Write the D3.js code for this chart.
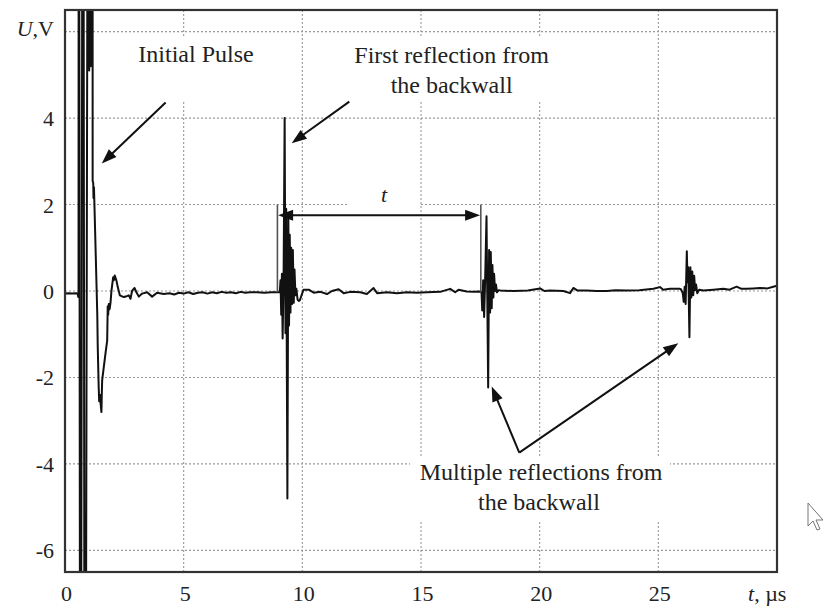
<!DOCTYPE html>
<html>
<head>
<meta charset="utf-8">
<script src="https://cdn.jsdelivr.net/npm/d3@7"></script>
<style>
  body { margin: 0; background: #fff; }
  text { font-family: "Liberation Serif", "Times New Roman", serif; fill: #222; }
</style>
</head>
<body>
<div id="chart"></div>
<script>
// ticks
const xTicks = [0, 5, 10, 15, 20, 25];
const yTicks = [-6, -4, -2, 0, 2, 4, 6];
const yTickLabels = ["-6", "-4", "-2", "0", "2", "4", ""];

// signal: [t (µs), U (V)]
const initialPulse = [
  [0, -0.06], [0.15, -0.05], [0.3, -0.06], [0.45, -0.05], [0.53, -0.06], [0.56, -0.14], [0.57, -0.1],
  [0.58, 20], [0.65, -20], [0.76, 20], [0.84, -20], [0.99, 20], [1.02, 5.1], [1.05, 20], [1.08, 5.2],
  [1.11, 20], [1.14, 5.3], [1.16, 20], [1.165, 2.55], [1.19, 2.5], [1.2, 2.15], [1.22, 2.4], [1.24, 2.0],
  [1.36, -0.53], [1.38, -1.3], [1.42, -2.23], [1.44, -2.55], [1.47, -2.4], [1.5, -2.6], [1.535, -2.8],
  [1.55, -2.4], [1.566, -2.07], [1.634, -1.76], [1.705, -1.45], [1.777, -1.15], [1.8, -0.35], [1.82, -0.55],
  [1.844, -0.3], [1.88, -0.42], [1.916, -0.28], [1.958, 0.01], [2.03, 0.32], [2.06, 0.25], [2.097, 0.36],
  [2.168, 0.24], [2.223, 0.09]
];
const noiseA = [
  [2.31, -0.1], [2.48, -0.14], [2.6, -0.12], [2.69, -0.1], [2.76, -0.18], [2.83, 0.01], [2.93, 0.07],
  [3.01, -0.03], [3.11, -0.13], [3.25, -0.06], [3.46, -0.03], [3.67, -0.13], [3.88, -0.04], [4.16, -0.07],
  [4.4, -0.05], [4.6, -0.08], [4.8, -0.04], [5.0, -0.06], [5.2, -0.03], [5.4, -0.07], [5.6, -0.04],
  [5.8, -0.03], [6.0, -0.06], [6.2, -0.03], [6.4, -0.05], [6.6, -0.02], [6.8, -0.04], [7.0, -0.03],
  [7.2, -0.05], [7.4, -0.02], [7.6, -0.04], [7.8, -0.03], [8.1, -0.03], [8.4, -0.04], [8.7, -0.03], [9.02, -0.03]
];
const firstEcho = [
  [9.05, -0.03], [9.08, 0.25], [9.11, -0.55], [9.14, 0.4], [9.17, -1.1], [9.21, 0.3], [9.255, 4.0],
  [9.29, -0.98], [9.32, 1.9], [9.37, -4.8], [9.41, 1.7], [9.44, -0.8], [9.47, 1.3], [9.5, -0.5],
  [9.53, 1.0], [9.57, -0.3], [9.6, 0.95], [9.64, -0.27], [9.67, 0.5], [9.71, -0.1], [9.75, 0.05],
  [9.8, -0.2], [9.86, -0.23]
];
const noiseB = [
  [9.89, -0.22], [10.05, 0.03], [10.27, 0.03], [10.48, -0.04], [10.76, -0.02], [11.04, -0.07], [11.25, 0.0],
  [11.53, 0.04], [11.74, -0.05], [12.02, -0.02], [12.44, -0.03], [12.72, -0.07], [13.0, 0.07], [13.15, -0.05],
  [13.57, -0.03], [13.99, -0.05], [14.41, -0.03], [14.83, -0.04], [15.25, -0.03], [15.81, -0.02], [16.23, 0.05],
  [16.44, -0.03], [16.58, 0.03], [16.93, -0.01], [17.21, -0.02], [17.49, -0.01]
];
const secondEcho = [
  [17.55, -0.02], [17.58, -0.45], [17.62, 0.25], [17.66, -0.6], [17.7, 0.2], [17.76, 1.73], [17.83, -2.23],
  [17.87, 0.95], [17.91, -0.5], [17.94, 0.9], [17.98, -0.4], [18.01, 0.6], [18.05, -0.15], [18.08, 0.4],
  [18.12, 0.0], [18.16, 0.15], [18.2, -0.03], [18.27, 0.02]
];
const noiseC = [
  [18.34, 0.01], [18.9, 0.0], [19.5, 0.01], [20.02, 0.06], [20.2, 0.0], [20.44, 0.01], [21.0, 0.0],
  [21.28, -0.05], [21.42, 0.07], [21.6, 0.01], [21.98, 0.01], [22.4, 0.0], [22.83, 0.0], [23.2, 0.02],
  [23.67, 0.01], [24.2, 0.02], [24.79, 0.05], [25.07, 0.09], [25.2, 0.03], [25.49, 0.05], [25.91, 0.05]
];
const thirdEcho = [
  [25.95, 0.04], [26.03, -0.05], [26.07, -0.25], [26.11, 0.1], [26.15, -0.3], [26.2, 0.92], [26.23, 0.2],
  [26.26, 0.55], [26.31, -1.07], [26.35, 0.55], [26.39, -0.15], [26.43, 0.45], [26.47, -0.1], [26.51, 0.35],
  [26.55, 0.02], [26.59, 0.15], [26.64, -0.05], [26.72, 0.03]
];
const noiseD = [
  [26.9, 0.01], [27.32, 0.03], [27.74, 0.05], [28.0, 0.03], [28.3, 0.1], [28.5, 0.05], [28.72, 0.05],
  [29.0, 0.06], [29.28, 0.07], [29.6, 0.06], [29.84, 0.1], [30, 0.12]
];

// time-of-flight marker
const cursorTimes = [8.95, 17.52];
const cursorLevel = 2.0;
const flightArrow = { t0: 8.98, t1: 17.49, u: 1.75 };

//size
const width = 825;
const height = 610;
const margin = { top: 10, right: 48, bottom: 38, left: 65 };

const signal = [].concat(initialPulse, noiseA, firstEcho, noiseB, secondEcho, noiseC, thirdEcho, noiseD);

const x = d3.scaleLinear().domain([0, 30]).range([margin.left, width - margin.right]);
const y = d3.scaleLinear().domain([-6.5, 6.5]).range([height - margin.bottom, margin.top]);

const svg = d3.select("#chart").append("svg")
  .attr("width", width)
  .attr("height", height);

svg.append("defs").append("clipPath").attr("id", "plot")
  .append("rect")
  .attr("x", x(0)).attr("y", y(6.5))
  .attr("width", x(30) - x(0)).attr("height", y(-6.5) - y(6.5));

// grid
const grid = svg.append("g").attr("stroke", "#999").attr("stroke-width", 1.1).attr("stroke-dasharray", "2,2");
grid.selectAll("line.v").data(xTicks.filter(d => d > 0)).join("line")
  .attr("x1", d => x(d)).attr("x2", d => x(d))
  .attr("y1", y(6.5)).attr("y2", y(-6.5));
grid.selectAll("line.h").data(yTicks).join("line")
  .attr("x1", x(0)).attr("x2", x(30))
  .attr("y1", d => y(d)).attr("y2", d => y(d));

// white boxes behind the notes (they cut the grid)
const boxes = [
  [2.74, 8.3, 5.9, 4.4],
  [11.8, 20.77, 5.9, 4.4],
  [11.97, 14.92, 2.57, 1.9],
  [14.54, 25.49, -3.84, -5.3]
];
svg.append("g").selectAll("rect").data(boxes).join("rect")
  .attr("fill", "#fff")
  .attr("x", d => x(d[0])).attr("width", d => x(d[1]) - x(d[0]))
  .attr("y", d => y(d[2])).attr("height", d => y(d[3]) - y(d[2]));

// signal
svg.append("path")
  .datum(signal)
  .attr("clip-path", "url(#plot)")
  .attr("fill", "none")
  .attr("stroke", "#111")
  .attr("stroke-width", 2)
  .attr("stroke-linejoin", "round")
  .attr("d", d3.line().x(d => x(d[0])).y(d => y(d[1])));

// cursors
svg.append("g").selectAll("line").data(cursorTimes).join("line")
  .attr("stroke", "#555").attr("stroke-width", 1.6)
  .attr("x1", d => x(d)).attr("x2", d => x(d))
  .attr("y1", y(cursorLevel)).attr("y2", y(-0.03));

function arrow(g, t0, u0, t1, u1, both) {
  const x1 = x(t0), y1 = y(u0), x2 = x(t1), y2 = y(u1);
  const a = Math.atan2(y2 - y1, x2 - x1);
  const L = 15, W = 5.5;
  const head = (px, py, ang) => {
    const bx = px - L * Math.cos(ang), by = py - L * Math.sin(ang);
    g.append("polygon")
      .attr("fill", "#111")
      .attr("points", [[px, py], [bx + W * Math.sin(ang), by - W * Math.cos(ang)], [bx - W * Math.sin(ang), by + W * Math.cos(ang)]].join(" "));
  };
  g.append("line")
    .attr("stroke", "#111").attr("stroke-width", 2)
    .attr("x1", both ? x1 + (L - 2) * Math.cos(a) : x1)
    .attr("y1", both ? y1 + (L - 2) * Math.sin(a) : y1)
    .attr("x2", x2 - (L - 2) * Math.cos(a)).attr("y2", y2 - (L - 2) * Math.sin(a));
  head(x2, y2, a);
  if (both) head(x1, y1, a + Math.PI);
}

const notes = svg.append("g");
arrow(notes, flightArrow.t0, flightArrow.u, flightArrow.t1, flightArrow.u, true);
arrow(notes, 4.24, 4.36, 1.55, 2.95);
arrow(notes, 11.98, 4.38, 9.55, 3.42);
arrow(notes, 19.14, -3.74, 17.98, -2.21);
arrow(notes, 19.14, -3.74, 25.84, -1.21);

const labels = [
  { t: 5.52, u: 5.3, text: "Initial Pulse" },
  { t: 16.29, u: 5.27, text: "First reflection from" },
  { t: 16.29, u: 4.58, text: "the backwall" },
  { t: 20.06, u: -4.37, text: "Multiple reflections from" },
  { t: 19.97, u: -5.07, text: "the backwall" }
];
notes.selectAll("text.note").data(labels).join("text")
  .attr("class", "note")
  .attr("x", d => x(d.t)).attr("y", d => y(d.u))
  .attr("text-anchor", "middle")
  .attr("font-size", 24)
  .text(d => d.text);

notes.append("text")
  .attr("x", x(13.44)).attr("y", y(2.06))
  .attr("text-anchor", "middle")
  .attr("font-size", 22).attr("font-style", "italic")
  .text("t");

// frame
svg.append("rect")
  .attr("x", x(0)).attr("y", y(6.5))
  .attr("width", x(30) - x(0)).attr("height", y(-6.5) - y(6.5))
  .attr("fill", "none").attr("stroke", "#333").attr("stroke-width", 2.2);

// tick labels
svg.append("g").selectAll("text").data(xTicks).join("text")
  .attr("x", d => x(d) + 1.5).attr("y", y(-6.5) + 29)
  .attr("text-anchor", "middle").attr("font-size", 22)
  .text(d => d);
svg.append("g").selectAll("text").data(yTicks).join("text")
  .attr("x", x(0) - 11).attr("y", d => y(d) + 8)
  .attr("text-anchor", "end").attr("font-size", 22)
  .text((d, i) => yTickLabels[i]);

// axis names
const uLab = svg.append("text").attr("x", x(0) - 11).attr("y", y(6) + 4)
  .attr("text-anchor", "end").attr("font-size", 22);
uLab.append("tspan").attr("font-style", "italic").text("U");
uLab.append("tspan").text(",V");

const tLab = svg.append("text").attr("x", 748).attr("y", y(-6.5) + 29).attr("font-size", 22);
tLab.append("tspan").attr("font-style", "italic").text("t");
tLab.append("tspan").text(", µs");

// mouse pointer left in the screenshot
svg.append("path")
  .attr("transform", "translate(808,503)")
  .attr("d", "M0,0 L0,23 L5,18 L9,27 L12,26 L8,17 L15,17 Z")
  .attr("fill", "#fff").attr("stroke", "#777").attr("stroke-width", 1);
</script>
</body>
</html>
